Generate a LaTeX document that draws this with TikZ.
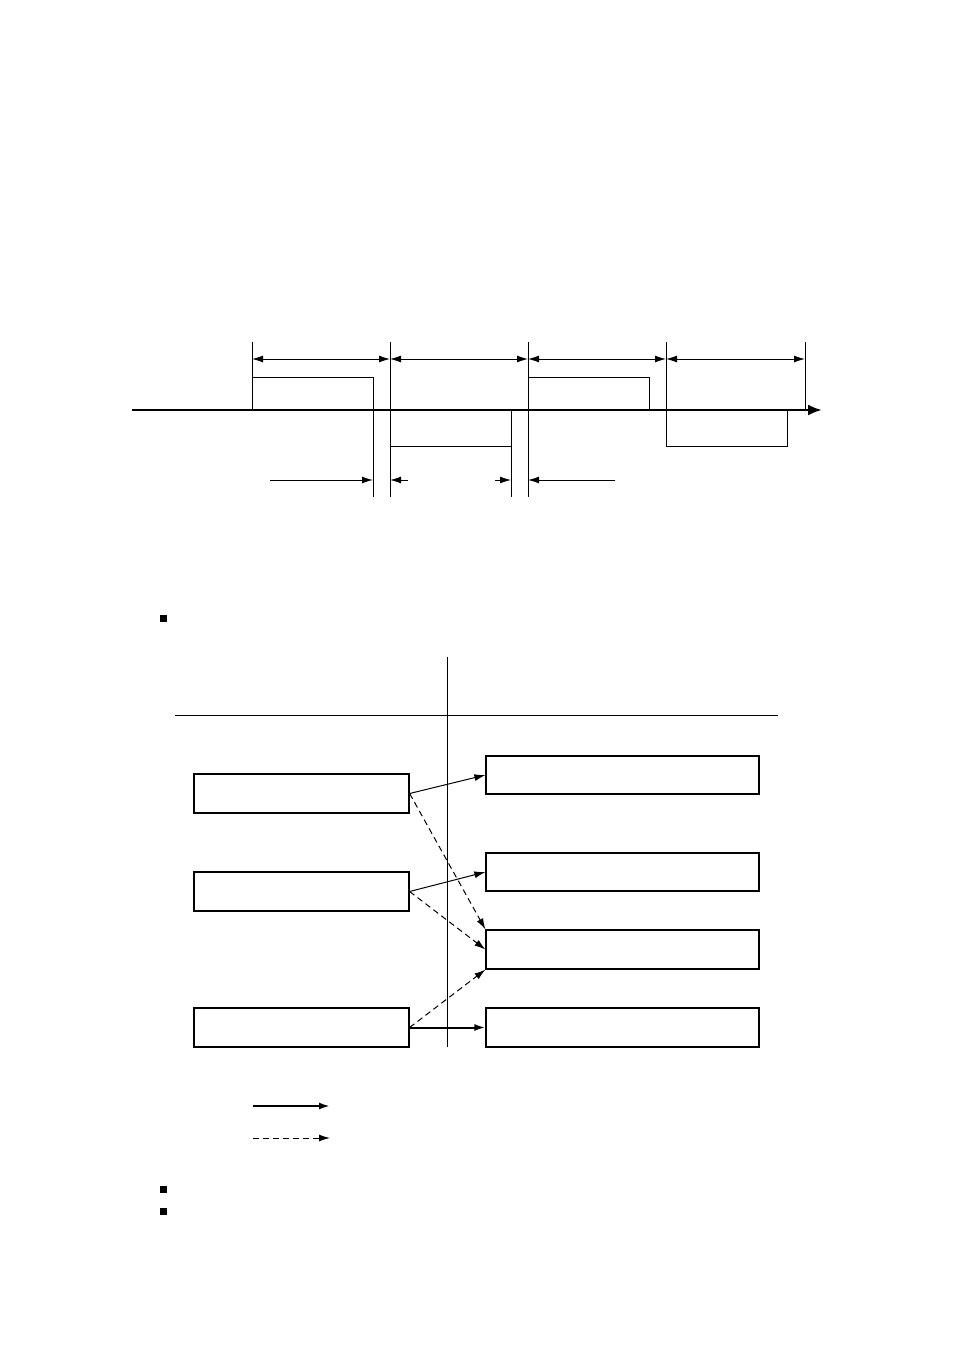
\documentclass[tikz,border=0pt]{standalone}
\usetikzlibrary{arrows.meta}
\begin{document}
\begin{tikzpicture}[x=1pt,y=-1pt,line width=1pt,
  tip/.style={-{Latex[length=11pt,width=7pt]}},
  dtip/.style={{Latex[length=11pt,width=7pt]}-{Latex[length=11pt,width=7pt]}},
  dsh/.style={dash pattern=on 6pt off 4pt},
  bx/.style={draw,line width=1.2pt}]
\useasboundingbox (0,0) rectangle (954,1351);
% timing diagram
\foreach \x in {252,390,528,666,805} \draw (\x,342) -- (\x,410);
\draw (390,410) -- (390,497); \draw (528,410) -- (528,497);
\draw (373,410) -- (373,497); \draw (511,410) -- (511,497);
\draw (252,410) -- (252,377) -- (373,377) -- (373,410);
\draw (528,410) -- (528,377) -- (649,377) -- (649,410);
\draw (390,410) -- (390,446) -- (511,446) -- (511,410);
\draw (666,410) -- (666,446) -- (787,446) -- (787,410);
\draw[dtip] (252,359) -- (390,359);
\draw[dtip] (390,359) -- (528,359);
\draw[dtip] (528,359) -- (666,359);
\draw[dtip] (666,359) -- (805,359);
\coordinate (a0) at (132,410); \coordinate (a1) at (822,410);
\draw[line width=2.5pt,-{Latex[length=14pt,width=11pt]}] (a0) -- (a1);
\draw[tip] (270,480) -- (373,480);
\draw[tip] (408,480) -- (390,480);
\draw[tip] (495,480) -- (511,480);
\draw[tip] (615,480) -- (528,480);
% bullets
\foreach \y in {618,1189,1211} \fill (159.5,\y-3.5) rectangle (166.5,\y+3.5);
% table
\draw (447,657) -- (447,1047);
\draw (175,715) -- (778,715);
\node[bx,minimum width=215pt,minimum height=39pt] (L1) at (301.5,793.5) {};
\node[bx,minimum width=215pt,minimum height=39pt] (L2) at (301.5,891.5) {};
\node[bx,minimum width=215pt,minimum height=39pt] (L3) at (301.5,1027.5) {};
\node[bx,minimum width=273pt,minimum height=38pt] (R1) at (622.5,775) {};
\node[bx,minimum width=273pt,minimum height=38pt] (R2) at (622.5,872) {};
\node[bx,minimum width=273pt,minimum height=39pt] (R3) at (622.5,949.5) {};
\node[bx,minimum width=273pt,minimum height=39pt] (R4) at (622.5,1027.5) {};
\draw[tip] (L1.east) -- (R1.west);
\draw[tip] (L2.east) -- (R2.west);
\draw[tip,line width=2pt] (L3.east) -- (R4.west);
\draw[tip,dsh] (L1.east) -- (R3.north west);
\draw[tip,dsh] (L2.east) -- (R3.west);
\draw[tip,dsh] (L3.east) -- (R3.south west);
% legend
\coordinate (s0) at (253,1106); \coordinate (s1) at (330,1106);
\coordinate (d0) at (253,1138); \coordinate (d1) at (330,1138);
\draw[tip,line width=2pt] (s0) -- (s1);
\draw[tip,dsh] (d0) -- (d1);
\end{tikzpicture}
\end{document}
